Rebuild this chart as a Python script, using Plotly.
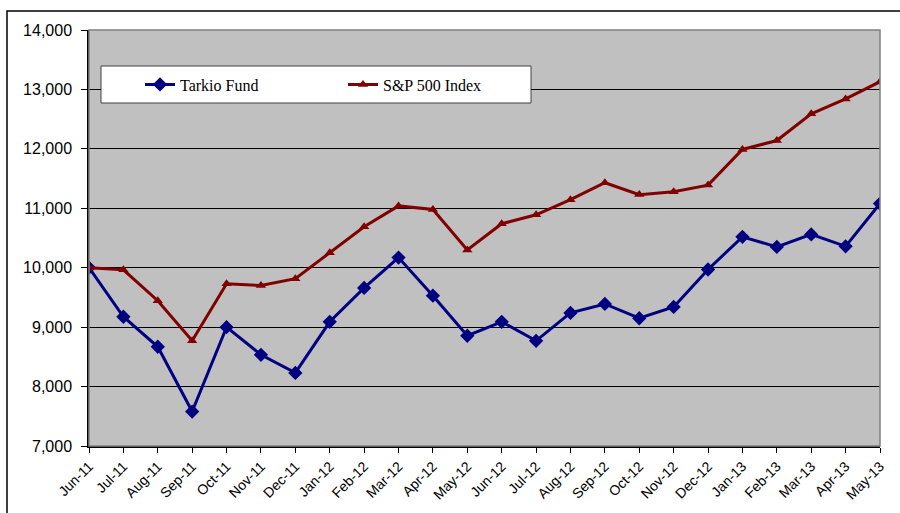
import plotly.graph_objects as go

months = ["Jun-11", "Jul-11", "Aug-11", "Sep-11", "Oct-11", "Nov-11", "Dec-11",
          "Jan-12", "Feb-12", "Mar-12", "Apr-12", "May-12", "Jun-12", "Jul-12",
          "Aug-12", "Sep-12", "Oct-12", "Nov-12", "Dec-12", "Jan-13", "Feb-13",
          "Mar-13", "Apr-13", "May-13"]
tarkio = [10000, 9175, 8670, 7580, 9000, 8535, 8230, 9090, 9660, 10170, 9530, 8855,
          9090, 8770, 9240, 9390, 9150, 9340, 9970, 10520, 10350, 10560, 10360, 11080]
sp500 = [10000, 9965, 9445, 8770, 9730, 9700, 9815, 10250, 10690, 11040, 10980, 10300,
         10740, 10890, 11145, 11430, 11230, 11280, 11390, 11990, 12140, 12590, 12840, 13130]
y_ticks = [7000, 8000, 9000, 10000, 11000, 12000, 13000, 14000]

W, H = 900, 513
L, R, T, B = 89, 20, 30, 67
pw, ph = W - L - R, H - T - B

def px(x):
    return (x - L) / pw

def py(y):
    return (H - B - y) / ph

idx = list(range(len(months)))

fig = go.Figure()
fig.add_trace(go.Scatter(x=idx, y=tarkio, name="Tarkio Fund", mode="lines+markers",
                         line=dict(color="#000080", width=3),
                         marker=dict(symbol="diamond", size=11, color="#000080")))
fig.add_trace(go.Scatter(x=idx, y=sp500, name="S&P 500 Index", mode="lines+markers",
                         line=dict(color="#800000", width=3),
                         marker=dict(symbol="triangle-up", size=9, color="#800000")))

shapes = [
    # outer border (right/bottom edges fall outside the window)
    dict(type="rect", xref="paper", yref="paper", x0=px(7), x1=px(960), y0=py(560), y1=py(11),
         line=dict(color="black", width=1.5), fillcolor="rgba(0,0,0,0)", layer="below"),
    # plot area border
    dict(type="rect", xref="paper", yref="paper", x0=0, x1=1, y0=0, y1=1,
         line=dict(color="#808080", width=1.5), fillcolor="rgba(0,0,0,0)", layer="above"),
    # legend box
    dict(type="rect", xref="paper", yref="paper", x0=px(101), x1=px(531), y0=py(103), y1=py(66),
         line=dict(color="#404040", width=1), fillcolor="white", layer="above"),
]

fig.update_layout(
    width=W, height=H,
    margin=dict(l=L, r=R, t=T, b=B),
    paper_bgcolor="white",
    plot_bgcolor="#C0C0C0",
    shapes=shapes,
    showlegend=True,
    legend=dict(orientation="h", x=px(140), y=py(84.5), xanchor="left", yanchor="middle",
                bgcolor="rgba(0,0,0,0)", borderwidth=0,
                font=dict(family="Liberation Serif", size=16, color="black"),
                entrywidth=158, entrywidthmode="pixels", itemwidth=30),
    xaxis=dict(range=[0, 23], tickvals=idx, ticktext=months, tickangle=-45, automargin=False,
               showgrid=False, zeroline=False, showline=True, linecolor="black", linewidth=1.5,
               ticks="outside", ticklen=5, tickcolor="black",
               tickfont=dict(family="Liberation Sans", size=14, color="black")),
    yaxis=dict(range=[7000, 14000], tickvals=y_ticks, tickformat=",", automargin=False,
               showgrid=True, gridcolor="black", gridwidth=1, zeroline=False,
               showline=True, linecolor="black", linewidth=1.5,
               ticks="outside", ticklen=6, tickcolor="black", ticklabelstandoff=6,
               tickfont=dict(family="Liberation Sans", size=16, color="black")),
)

fig.write_html("out.html")
